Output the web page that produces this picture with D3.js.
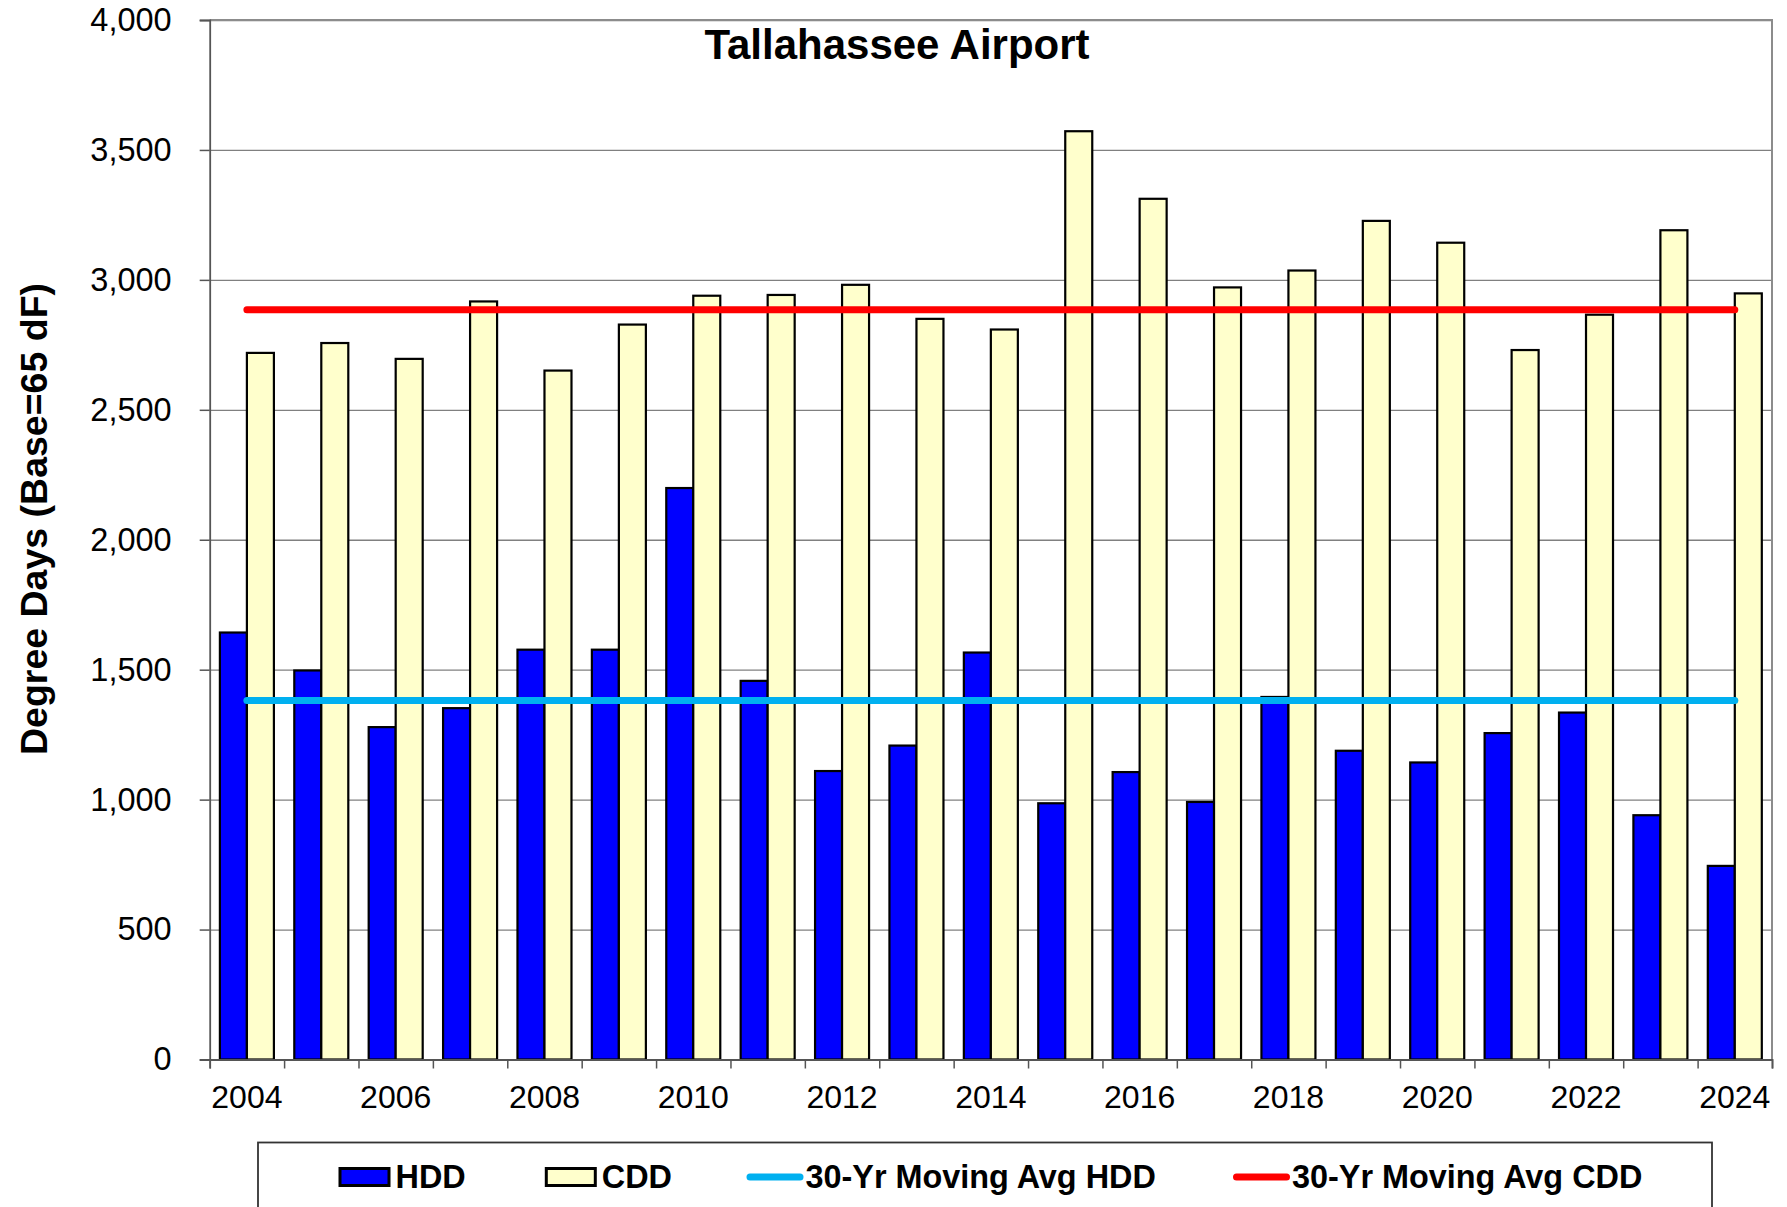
<!DOCTYPE html>
<html>
<head>
<meta charset="utf-8">
<script src="https://cdn.jsdelivr.net/npm/d3@7"></script>
<style>
  body { margin: 0; background: #fff; }
  svg text { font-family: "Liberation Sans", Arial, sans-serif; fill: #000; }
</style>
</head>
<body>
<div id="chart"></div>
<script>
// data
let years = [2004, 2005, 2006, 2007, 2008, 2009, 2010, 2011, 2012, 2013, 2014,
    2015, 2016, 2017, 2018, 2019, 2020, 2021, 2022, 2023, 2024];
let hdd = [1643, 1497, 1279, 1352, 1577, 1577, 2199, 1457, 1110, 1208, 1566,
    986, 1106, 991, 1395, 1188, 1143, 1256, 1335, 940, 745];
let cdd = [2719, 2757, 2696, 2917, 2651, 2828, 2939, 2942, 2981, 2850, 2809,
    3572, 3312, 2971, 3036, 3227, 3143, 2730, 2866, 3191, 2948];
let avgHdd = [1381, 1381, 1381, 1381, 1381, 1381, 1381, 1381, 1381, 1381, 1381,
    1381, 1381, 1381, 1381, 1381, 1381, 1381, 1381, 1381, 1381];
let avgCdd = [2885, 2885, 2885, 2885, 2885, 2885, 2885, 2885, 2885, 2885, 2885,
    2885, 2885, 2885, 2885, 2885, 2885, 2885, 2885, 2885, 2885];
let yTicks = [0, 500, 1000, 1500, 2000, 2500, 3000, 3500, 4000];
let xLabels = [2004, 2006, 2008, 2010, 2012, 2014, 2016, 2018, 2020, 2022, 2024];
let seriesNames = ["HDD", "CDD"];
let legendItems = [
    { name: "HDD", type: "bar", color: "#0000FF" },
    { name: "CDD", type: "bar", color: "#FFFFCC" },
    { name: "30-Yr Moving Avg HDD", type: "line", color: "#00B0F0" },
    { name: "30-Yr Moving Avg CDD", type: "line", color: "#FF0000" }
];

let W = 1787, H = 1207;
let margin = { top: 20, right: 15, bottom: 147.5, left: 209.7 };
let width = W - margin.left - margin.right;
let height = H - margin.top - margin.bottom;

var svg = d3.select("#chart")
    .append("svg")
    .attr("width", W)
    .attr("height", H)
    .append("g")
    .attr("transform", "translate(" + margin.left + "," + margin.top + ")");

// scales
var x = d3.scaleBand()
    .domain(years)
    .range([0, width])
    .paddingInner(0.274)
    .paddingOuter(0.137);

var xSub = d3.scaleBand()
    .domain(seriesNames)
    .range([0, x.bandwidth()]);

var y = d3.scaleLinear()
    .domain([0, 4000])
    .range([height, 0]);

// gridlines
svg.append("g")
    .attr("class", "grid")
    .call(d3.axisLeft(y).tickValues(yTicks).tickSize(-width).tickFormat(""))
    .call(g => g.select(".domain").remove())
    .call(g => g.selectAll("line").attr("stroke", "#808080").attr("stroke-width", 1.3));

// plot border top/right
svg.append("path")
    .attr("d", "M0,0H" + width + "V" + height)
    .attr("fill", "none")
    .attr("stroke", "#8c8c8c")
    .attr("stroke-width", 2);

// bars
let rows = years.map((yr, i) => ({ year: yr, HDD: hdd[i], CDD: cdd[i] }));
let colors = { HDD: "#0000FF", CDD: "#FFFFCC" };

svg.selectAll(".grp")
    .data(rows)
    .enter()
    .append("g")
    .attr("transform", d => "translate(" + x(d.year) + ",0)")
    .selectAll("rect")
    .data(d => seriesNames.map(k => ({ key: k, value: d[k] })))
    .enter()
    .append("rect")
    .attr("x", d => xSub(d.key))
    .attr("y", d => y(d.value))
    .attr("width", xSub.bandwidth())
    .attr("height", d => height - y(d.value))
    .attr("fill", d => colors[d.key])
    .attr("stroke", "#000")
    .attr("stroke-width", 2.2);

// moving average lines
var line = d3.line()
    .x((d, i) => x(years[i]) + x.bandwidth() / 2)
    .y(d => y(d));

svg.append("path")
    .datum(avgHdd)
    .attr("d", line)
    .attr("fill", "none")
    .attr("stroke", "#00B0F0")
    .attr("stroke-width", 7)
    .attr("stroke-linecap", "round");

svg.append("path")
    .datum(avgCdd)
    .attr("d", line)
    .attr("fill", "none")
    .attr("stroke", "#FF0000")
    .attr("stroke-width", 7)
    .attr("stroke-linecap", "round");

// y axis
svg.append("g")
    .call(d3.axisLeft(y).tickValues(yTicks).tickSize(10).tickPadding(28).tickFormat(d3.format(",")))
    .call(g => g.select(".domain").attr("stroke", "#555").attr("stroke-width", 1.8))
    .call(g => g.selectAll("line").attr("stroke", "#555").attr("stroke-width", 1.5))
    .call(g => g.selectAll("text").attr("font-size", 32.5).attr("fill", "#000"));

// x axis: boundary ticks
var xEdge = d3.scaleLinear().domain([0, years.length]).range([0, width]);
svg.append("g")
    .attr("transform", "translate(0," + height + ")")
    .call(d3.axisBottom(xEdge).ticks(years.length).tickSize(9).tickFormat(""))
    .call(g => g.select(".domain").attr("stroke", "#555").attr("stroke-width", 1.8))
    .call(g => g.selectAll("line").attr("stroke", "#555").attr("stroke-width", 1.5));

// x axis labels
svg.append("g")
    .attr("transform", "translate(0," + height + ")")
    .call(d3.axisBottom(x).tickValues(xLabels).tickSize(0).tickPadding(26))
    .call(g => g.select(".domain").remove())
    .call(g => g.selectAll("text").attr("font-size", 32).attr("fill", "#000"));

// title
svg.append("text")
    .attr("x", 897 - margin.left)
    .attr("y", 59 - margin.top)
    .attr("text-anchor", "middle")
    .attr("font-size", 42)
    .attr("font-weight", "bold")
    .text("Tallahassee Airport");

// y axis title
svg.append("text")
    .attr("transform", "translate(" + (34 - margin.left) + "," + (519 - margin.top) + ") rotate(-90)")
    .attr("text-anchor", "middle")
    .attr("dominant-baseline", "central")
    .attr("font-size", 37.5)
    .attr("font-weight", "bold")
    .text("Degree Days (Base=65 dF)");

// legend
var root = d3.select("#chart svg");
var legend = root.append("g");

legend.append("rect")
    .attr("x", 258)
    .attr("y", 1142.5)
    .attr("width", 1712 - 258)
    .attr("height", 100)
    .attr("fill", "#fff")
    .attr("stroke", "#333")
    .attr("stroke-width", 1.8);

let legendX = [338.5, 544.8, 746.5, 1233];
let legendY = 1177;

legendItems.forEach(function (item, i) {
    let g = legend.append("g").attr("transform", "translate(" + legendX[i] + "," + legendY + ")");
    if (item.type === "bar") {
        g.append("rect")
            .attr("x", 1.5).attr("y", -8.5)
            .attr("width", 49).attr("height", 17)
            .attr("fill", item.color)
            .attr("stroke", "#000")
            .attr("stroke-width", 3);
        g.append("text")
            .attr("x", 57).attr("y", 11)
            .attr("font-size", 32.4).attr("font-weight", "bold")
            .text(item.name);
    } else {
        g.append("line")
            .attr("x1", 3.5).attr("x2", 53.5)
            .attr("y1", 0).attr("y2", 0)
            .attr("stroke", item.color)
            .attr("stroke-width", 7)
            .attr("stroke-linecap", "round");
        g.append("text")
            .attr("x", 59).attr("y", 11)
            .attr("font-size", 32.4).attr("font-weight", "bold")
            .text(item.name);
    }
});
</script>
</body>
</html>
